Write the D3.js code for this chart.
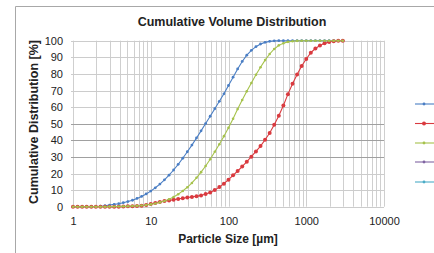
<!DOCTYPE html>
<html>
<head>
<meta charset="utf-8">
<script src="https://cdn.jsdelivr.net/npm/d3@7"></script>
<style>
  html, body { margin: 0; padding: 0; background: #fff; }
  svg { display: block; font-family: "Liberation Sans", Arial, sans-serif; }
</style>
</head>
<body>
<svg id="chart" width="434" height="253"></svg>
<script>
// ---- data ----
const sizes = [1, 1.145, 1.311, 1.501, 1.719, 1.968, 2.254, 2.581, 2.955, 3.384, 3.875, 4.437, 5.080, 5.817, 6.661, 7.627, 8.733,
  10, 11.45, 13.11, 15.01, 17.19, 19.68, 22.54, 25.81, 29.55, 33.84, 38.75, 44.37, 50.80, 58.17, 66.61, 76.27, 87.33,
  100, 114.5, 131.1, 150.1, 171.9, 196.8, 225.4, 258.1, 295.5, 338.4, 387.5, 443.7, 508.0, 581.7, 666.1, 762.7, 873.3,
  1000, 1145, 1311, 1501, 1719, 1968, 2254, 2581, 2955];
const blueValues = [0, 0, 0, 0, 0, 0.1, 0.3, 0.6, 1.0, 1.4, 1.8, 2.4, 3.1, 3.9, 5.0, 6.2, 7.7,
  9.4, 11.4, 13.6, 16.2, 19.0, 22.1, 25.5, 29.2, 33.1, 37.1, 41.4, 45.7, 50.1, 54.5, 59.0, 63.5, 68.0,
  73.0, 78.0, 83.0, 87.5, 91.3, 94.2, 96.4, 98.0, 99.0, 99.6, 99.9, 100, 100, 100, 100, 100, 100,
  100, 100, 100, 100, 100, 100, 100, 100, 100];
const redValues = [0, 0, 0, 0, 0, 0, 0, 0, 0, 0, 0, 0.1, 0.2, 0.3, 0.4, 0.6, 1.0,
  1.6, 2.3, 2.9, 3.4, 3.8, 4.2, 4.7, 5.1, 5.5, 5.9, 6.3, 6.8, 7.6, 8.6, 10.0, 11.8, 13.9,
  16.3, 18.9, 21.5, 24.2, 27.1, 30.1, 33.3, 36.5, 40.3, 44.4, 49.3, 54.8, 61.0, 67.8, 74.1, 79.6, 84.8,
  89.0, 92.8, 95.3, 97.1, 98.4, 99.2, 99.7, 100, 100];
const greenValues = [0, 0, 0, 0, 0, 0, 0, 0, 0.05, 0.1, 0.1, 0.2, 0.25, 0.4, 0.5, 0.7, 1.0,
  1.4, 1.9, 2.6, 3.4, 4.5, 5.8, 7.5, 9.5, 11.7, 14.3, 17.4, 20.8, 24.5, 28.6, 33.1, 37.6, 42.5,
  47.5, 53.0, 58.8, 64.3, 69.5, 74.5, 79.5, 84.0, 88.3, 92.0, 95.0, 97.2, 98.5, 99.3, 99.7, 99.9, 100,
  100, 100, 100, 100, 100, 100, 100, 100, 100];
const seriesColors = ["#4a7ec4", "#d93a3f", "#a6c24c", "#8064a2", "#4bacc6"];
const xTickLabels = [1, 10, 100, 1000, 10000];
const yTickLabels = [0, 10, 20, 30, 40, 50, 60, 70, 80, 90, 100];
const titleText = "Cumulative Volume Distribution";
const xTitle = "Particle Size [µm]";
const yTitle = "Cumulative Distribution [%]";

// ---- layout ----
const svg = d3.select("#chart");
const X0 = 73, X1 = 384, Y0 = 206.7, Y1 = 40.7;
const x = d3.scaleLog().domain([1, 10000]).range([X0, X1]);
const y = d3.scaleLinear().domain([0, 100]).range([Y0, Y1]);

// frame
svg.append("path").attr("d", `M15.5,253 V6.5 H434`).attr("fill", "none").attr("stroke", "#a8a8a8").attr("stroke-width", 1);

// vertical grid (log minor)
const vgrid = [];
for (let p = 0; p < 4; p++) for (let k = 1; k <= 9; k++) vgrid.push(k * Math.pow(10, p));
vgrid.push(10000);
svg.append("g").selectAll("line").data(vgrid).join("line")
  .attr("x1", d => Math.round(x(d)) + 0.5).attr("x2", d => Math.round(x(d)) + 0.5)
  .attr("y1", Y1).attr("y2", Y0)
  .attr("stroke", "#cfcfcf").attr("stroke-width", 1);

// horizontal grid
svg.append("g").selectAll("line").data(yTickLabels).join("line")
  .attr("x1", X0 - 2).attr("x2", X1)
  .attr("y1", d => Math.round(y(d)) + 0.5).attr("y2", d => Math.round(y(d)) + 0.5)
  .attr("stroke", d => (d >= 30 && d <= 50) ? "#a0a0a0" : "#cccccc").attr("stroke-width", 1);

// axes
const xAxis = d3.axisBottom(x).tickValues(xTickLabels).tickFormat(d3.format("d")).tickSize(0).tickPadding(0);
const gx = svg.append("g").attr("transform", `translate(0,${Y0 + 10})`).call(xAxis);
gx.select(".domain").remove();
gx.selectAll("text").attr("font-size", 11).attr("fill", "#222").attr("font-family", "Liberation Sans, Arial, sans-serif");

const yAxis = d3.axisLeft(y).tickValues(yTickLabels).tickSize(0).tickPadding(0);
const gy = svg.append("g").attr("transform", `translate(63,0)`).call(yAxis);
gy.select(".domain").remove();
gy.selectAll("text").attr("font-size", 11).attr("fill", "#222").attr("font-family", "Liberation Sans, Arial, sans-serif");

// titles
svg.append("text").attr("x", 232).attr("y", 26).attr("text-anchor", "middle")
  .attr("font-size", 12.5).attr("font-weight", "bold").attr("fill", "#222").text(titleText);
svg.append("text").attr("x", 228).attr("y", 243).attr("text-anchor", "middle")
  .attr("font-size", 12).attr("font-weight", "bold").attr("fill", "#222").text(xTitle);
svg.append("text").attr("transform", `translate(38,122) rotate(-90)`).attr("text-anchor", "middle")
  .attr("font-size", 12.5).attr("font-weight", "bold").attr("fill", "#222").text(yTitle);

// series
const series = [
  { values: blueValues, color: seriesColors[0], r: 1.4 },
  { values: redValues, color: seriesColors[1], r: 2.0 },
  { values: greenValues, color: seriesColors[2], r: 1.3 }
];
const line = d3.line().x(d => x(d[0])).y(d => y(d[1]));
series.forEach(s => {
  const pts = sizes.map((sz, i) => [sz, s.values[i]]);
  const g = svg.append("g");
  g.append("path").datum(pts).attr("d", line).attr("fill", "none").attr("stroke", s.color).attr("stroke-width", 1.1);
  g.selectAll("circle").data(pts).join("circle")
    .attr("cx", d => x(d[0])).attr("cy", d => y(d[1])).attr("r", s.r).attr("fill", s.color);
});

// legend symbols (legend labels lie outside the visible picture)
const legY = [104, 123.5, 143, 162, 182];
const leg = svg.append("g");
seriesColors.forEach((c, i) => {
  leg.append("line").attr("x1", 415).attr("x2", 434).attr("y1", legY[i]).attr("y2", legY[i])
    .attr("stroke", c).attr("stroke-width", 1.1);
  leg.append("circle").attr("cx", 424).attr("cy", legY[i]).attr("r", i === 1 ? 2.0 : 1.4).attr("fill", c);
});
</script>
</body>
</html>
